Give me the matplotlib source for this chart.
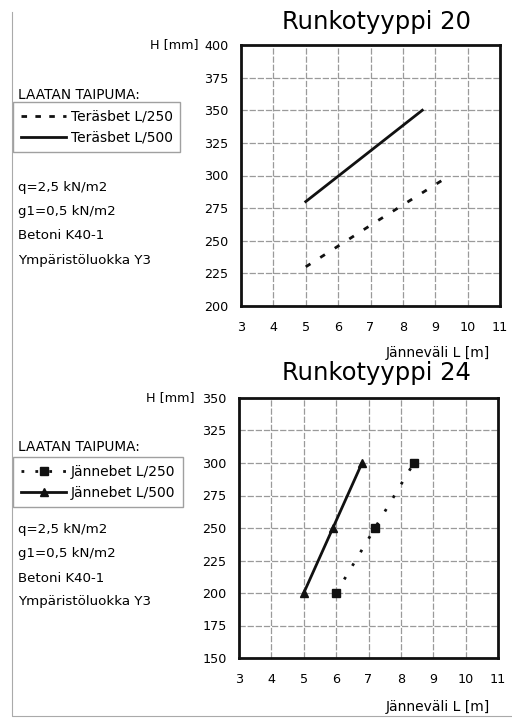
import matplotlib
matplotlib.use("Agg")
import matplotlib.pyplot as plt
from matplotlib.lines import Line2D

plt.rcParams['font.family'] = ['DejaVu Sans']

# ---- data ----
x_ticks = [3, 4, 5, 6, 7, 8, 9, 10, 11]
top_yticks = [200, 225, 250, 275, 300, 325, 350, 375, 400]
bot_yticks = [150, 175, 200, 225, 250, 275, 300, 325, 350]

top_title = "Runkotyyppi 20"
top_l250_x = [5.0, 7.2, 9.45]
top_l250_y = [230, 265, 300]
top_l500_x = [5.0, 6.8, 8.6]
top_l500_y = [280, 315, 350]
top_labels = ["Teräsbet L/250", "Teräsbet L/500"]

bot_title = "Runkotyyppi 24"
bot_l250_x = [6.0, 7.2, 8.4]
bot_l250_y = [200, 250, 300]
bot_l500_x = [5.0, 5.9, 6.8]
bot_l500_y = [200, 250, 300]
bot_labels = ["Jännebet L/250", "Jännebet L/500"]

info_lines = ["q=2,5 kN/m2", "g1=0,5 kN/m2", "Betoni K40-1", "Ympäristöluokka Y3"]

W, H = 512, 718
fig = plt.figure(figsize=(W / 100, H / 100), dpi=100)


def fx(px):
    return px / W


def fy(py):
    return 1 - py / H


def setup_axes(ax, yticks):
    ax.set_xlim(x_ticks[0], x_ticks[-1])
    ax.set_ylim(yticks[0], yticks[-1])
    ax.set_xticks(x_ticks)
    ax.set_yticks(yticks)
    ax.tick_params(length=0, labelsize=9.2, pad=11)
    ax.tick_params(axis='y', pad=9)
    ax.grid(True, color='#9a9a9a', lw=0.9, linestyle=(0, (5, 1.5)))
    ax.set_axisbelow(True)
    for s in ax.spines.values():
        s.set_linewidth(2.0)
        s.set_color('#111111')


LEG_KW = dict(loc='upper left', bbox_transform=fig.transFigure, fontsize=10,
              frameon=True, fancybox=False, edgecolor='#888888',
              borderpad=0.55, handlelength=3.3, handletextpad=0.3,
              labelspacing=0.5, borderaxespad=0)

# ---- top chart ----
ax1 = fig.add_axes([fx(241), fy(306), fx(500) - fx(241), fy(45) - fy(306)])
setup_axes(ax1, top_yticks)
ax1.plot(top_l250_x, top_l250_y, color='#111111', lw=2.0,
         linestyle=(0, (2.0, 4.2)), dash_capstyle='butt')
ax1.plot(top_l500_x, top_l500_y, color='#111111', lw=2.0)
leg1 = ax1.legend([Line2D([], [], color='#111111', lw=2.0, linestyle=(0, (2.0, 3.0))),
                   Line2D([], [], color='#111111', lw=2.0)], top_labels,
                  bbox_to_anchor=(fx(13), fy(102)), **LEG_KW)

fig.text(fx(376), fy(22), top_title, fontsize=17.5, ha='center', va='center')
fig.text(fx(199), fy(45), "H [mm]", fontsize=9.2, ha='right', va='center')
fig.text(fx(490), fy(353), "Jänneväli L [m]", fontsize=10, ha='right', va='center')
fig.text(fx(18), fy(95), "LAATAN TAIPUMA:", fontsize=9.8, ha='left', va='center')
for i, t in enumerate(info_lines):
    fig.text(fx(18), fy(187 + 24.5 * i), t, fontsize=9.6, ha='left', va='center')

# ---- bottom chart ----
ax2 = fig.add_axes([fx(239), fy(658), fx(498) - fx(239), fy(398) - fy(658)])
setup_axes(ax2, bot_yticks)
ax2.plot(bot_l250_x, bot_l250_y, color='#111111', lw=2.0,
         linestyle=(0, (1.0, 4.7)), marker='s', markersize=6)
ax2.plot(bot_l500_x, bot_l500_y, color='#111111', lw=2.0,
         marker='^', markersize=6)
ax2.legend([Line2D([], [], color='#111111', lw=2.0, linestyle=(0, (1.0, 4.0)),
                   marker='s', markersize=6),
            Line2D([], [], color='#111111', lw=2.0, marker='^', markersize=6)],
           bot_labels, bbox_to_anchor=(fx(13), fy(457)), **LEG_KW)

fig.text(fx(376), fy(373), bot_title, fontsize=17.5, ha='center', va='center')
fig.text(fx(195), fy(398), "H [mm]", fontsize=9.2, ha='right', va='center')
fig.text(fx(490), fy(707), "Jänneväli L [m]", fontsize=10, ha='right', va='center')
fig.text(fx(18), fy(447), "LAATAN TAIPUMA:", fontsize=9.8, ha='left', va='center')
for i, t in enumerate(info_lines):
    fig.text(fx(18), fy(530 + 24 * i), t, fontsize=9.6, ha='left', va='center')

# page border (left and bottom)
fig.add_artist(Line2D([fx(12), fx(12), fx(512)], [fy(12), fy(716), fy(716)],
                      transform=fig.transFigure, color='#aaaaaa', lw=0.8))

fig.savefig("out.png", dpi=100)
